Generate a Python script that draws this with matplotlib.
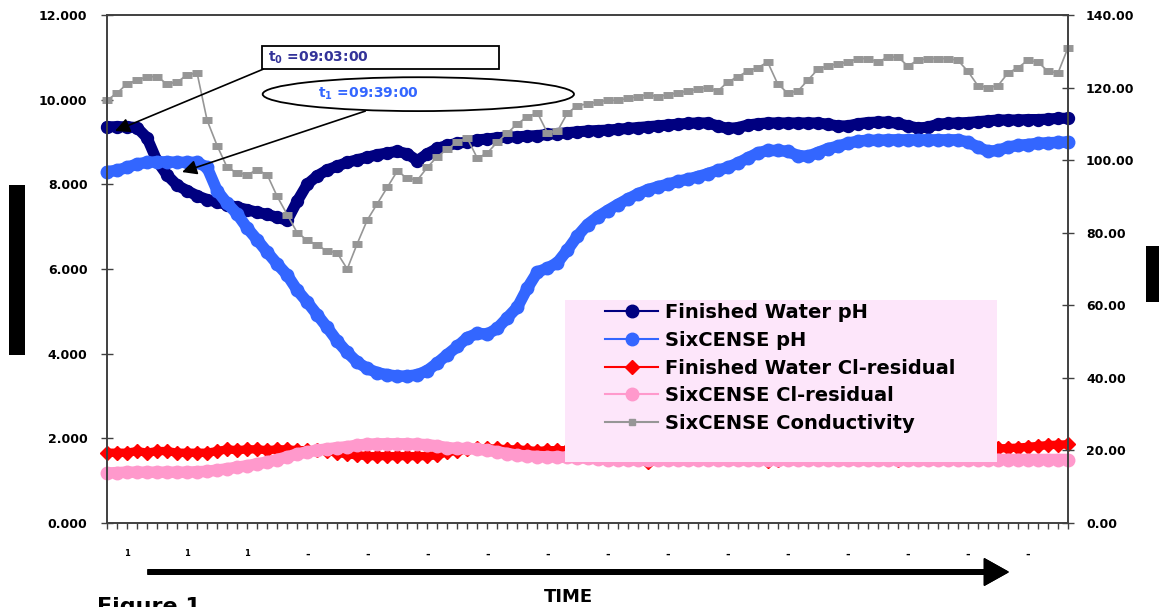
import numpy as np
import matplotlib
matplotlib.use('Agg')
import matplotlib.pyplot as plt
from matplotlib.patches import Rectangle, Ellipse
from matplotlib.lines import Line2D
from matplotlib.ticker import FormatStrFormatter, FixedLocator

# ---- data, one sample per category tick ----
fw_ph = [9.36, 9.36, 9.36, 9.34, 9.10, 8.55, 8.22, 7.98, 7.85, 7.73,
         7.64, 7.58, 7.52, 7.46, 7.40, 7.34, 7.29, 7.22, 7.15, 7.60,
         8.00, 8.20, 8.34, 8.43, 8.52, 8.58, 8.64, 8.70, 8.74, 8.78,
         8.72, 8.56, 8.72, 8.85, 8.92, 8.97, 9.00, 9.05, 9.07, 9.10,
         9.12, 9.12, 9.14, 9.15, 9.18, 9.20, 9.22, 9.24, 9.26, 9.27,
         9.28, 9.30, 9.32, 9.34, 9.36, 9.38, 9.40, 9.42, 9.44, 9.45,
         9.45, 9.38, 9.32, 9.34, 9.40, 9.43, 9.45, 9.45, 9.45, 9.45,
         9.45, 9.45, 9.42, 9.38, 9.38, 9.43, 9.46, 9.47, 9.47, 9.44,
         9.38, 9.33, 9.35, 9.42, 9.44, 9.45, 9.46, 9.48, 9.50, 9.52,
         9.52, 9.52, 9.53, 9.53, 9.54, 9.56, 9.56]

six_ph = [8.30, 8.33, 8.40, 8.48, 8.52, 8.53, 8.53, 8.52, 8.52, 8.52,
          8.40, 7.85, 7.55, 7.30, 6.97, 6.69, 6.40, 6.12, 5.86, 5.50,
          5.22, 4.92, 4.62, 4.30, 4.03, 3.80, 3.65, 3.55, 3.50, 3.47,
          3.47, 3.50, 3.60, 3.78, 3.98, 4.17, 4.38, 4.48, 4.46, 4.60,
          4.85, 5.10, 5.55, 5.93, 6.02, 6.15, 6.45, 6.78, 7.05, 7.23,
          7.38, 7.52, 7.65, 7.77, 7.87, 7.94, 8.00, 8.07, 8.12, 8.18,
          8.25, 8.33, 8.40, 8.50, 8.62, 8.74, 8.80, 8.80, 8.78, 8.68,
          8.66, 8.75, 8.84, 8.90, 8.97, 9.02, 9.04, 9.04, 9.05, 9.05,
          9.05, 9.05, 9.05, 9.05, 9.05, 9.05, 9.00, 8.88, 8.78, 8.80,
          8.88, 8.92, 8.94, 8.97, 8.98, 8.99, 9.00]

fw_cl = [1.66, 1.66, 1.66, 1.70, 1.66, 1.70, 1.70, 1.66, 1.66, 1.66,
         1.66, 1.70, 1.74, 1.72, 1.74, 1.74, 1.72, 1.74, 1.74, 1.72,
         1.72, 1.72, 1.70, 1.66, 1.62, 1.60, 1.58, 1.58, 1.58, 1.58,
         1.58, 1.58, 1.58, 1.60, 1.68, 1.70, 1.74, 1.76, 1.76, 1.76,
         1.74, 1.74, 1.72, 1.70, 1.72, 1.72, 1.72, 1.70, 1.70, 1.72,
         1.70, 1.68, 1.66, 1.60, 1.45, 1.62, 1.68, 1.70, 1.72, 1.72,
         1.70, 1.68, 1.70, 1.70, 1.66, 1.64, 1.46, 1.48, 1.62, 1.70,
         1.72, 1.70, 1.70, 1.72, 1.70, 1.70, 1.68, 1.66, 1.60, 1.48,
         1.62, 1.70, 1.72, 1.72, 1.74, 1.74, 1.74, 1.75, 1.76, 1.76,
         1.77, 1.78, 1.80, 1.82, 1.84, 1.85, 1.86]

six_cl = [1.18, 1.19, 1.20, 1.20, 1.20, 1.20, 1.20, 1.20, 1.20, 1.21,
          1.22, 1.25, 1.28, 1.32, 1.35, 1.40, 1.44, 1.50, 1.56, 1.63,
          1.68, 1.72, 1.75, 1.78, 1.80, 1.84, 1.86, 1.87, 1.87, 1.87,
          1.87, 1.86, 1.85, 1.82, 1.78, 1.76, 1.76, 1.74, 1.72, 1.68,
          1.64, 1.60, 1.58, 1.57, 1.56, 1.56, 1.55, 1.54, 1.53, 1.52,
          1.50, 1.50, 1.49, 1.49, 1.50, 1.50, 1.50, 1.49, 1.49, 1.50,
          1.50, 1.50, 1.49, 1.49, 1.49, 1.50, 1.50, 1.50, 1.49, 1.49,
          1.50, 1.50, 1.50, 1.50, 1.49, 1.49, 1.49, 1.50, 1.50, 1.50,
          1.50, 1.50, 1.49, 1.49, 1.50, 1.50, 1.50, 1.50, 1.50, 1.50,
          1.50, 1.50, 1.50, 1.50, 1.50, 1.50, 1.50]

six_cond = [116.5, 118.5, 121.0, 122.0, 123.0, 123.0, 121.0, 121.5, 123.5, 124.0,
            111.0, 104.0, 98.0, 96.5, 96.0, 97.3, 96.0, 90.0, 85.0, 80.0,
            78.0, 76.5, 75.0, 74.4, 70.0, 77.0, 83.5, 88.0, 92.5, 97.0,
            95.0, 94.5, 98.0, 101.0, 103.0, 105.0, 106.0, 100.5, 102.0, 105.0,
            107.5, 110.0, 112.0, 113.0, 107.5, 108.0, 113.0, 115.0, 115.5, 116.0,
            116.5, 116.5, 117.0, 117.5, 118.0, 117.5, 118.0, 118.5, 119.0, 119.5,
            120.0, 119.0, 121.5, 123.0, 124.5, 125.5, 127.0, 121.0, 118.5, 119.0,
            122.0, 125.0, 126.0, 126.5, 127.0, 128.0, 128.0, 127.0, 128.4, 128.4,
            126.0, 127.5, 128.0, 128.0, 128.0, 127.5, 124.5, 120.5, 120.0, 120.5,
            124.0, 125.5, 127.5, 127.0, 124.5, 124.0, 131.0]

labels = ['Finished Water pH', 'SixCENSE pH', 'Finished Water Cl-residual',
          'SixCENSE Cl-residual', 'SixCENSE Conductivity']

# x tick labels are cut off in the source, only their tops show
tick_cats = list(range(2, 96, 6))
tick_text = ['1', '1', '1'] + ['-'] * (len(tick_cats) - 3)

t0_label = r'$\mathbf{t}_{\mathbf{0}}$ =09:03:00'
t1_label = r'$\mathbf{t}_{\mathbf{1}}$ =09:39:00'

plt.rcParams['font.family'] = ['DejaVu Sans']
plt.rcParams['font.weight'] = 'bold'

W, H = 1159, 607
fig = plt.figure(figsize=(W / 100, H / 100), dpi=100)
ax = fig.add_axes([107 / W, 1 - 523 / H, 961 / W, 508 / H])
ax2 = ax.twinx()

x = np.arange(len(fw_ph))
# dense markers in the source merge into thick bands; a wide line under the markers imitates that
ax.plot(x, fw_ph, color='#000080', lw=8, marker='o', ms=8.6, mec='#000080',
        solid_capstyle='round', solid_joinstyle='round', clip_on=False)
ax.plot(x, six_ph, color='#3366FF', lw=8.3, marker='o', ms=9, mec='#3366FF',
        solid_capstyle='round', solid_joinstyle='round', clip_on=False)
ax.plot(x, fw_cl, color='#FF0000', lw=6, marker='D', ms=7, mec='#FF0000',
        solid_capstyle='round', solid_joinstyle='round', clip_on=False)
ax.plot(x, six_cl, color='#FF99CC', lw=8.3, marker='o', ms=9, mec='#FF99CC',
        solid_capstyle='round', solid_joinstyle='round', clip_on=False)
ax2.plot(x, six_cond, color='#969696', lw=1.2, clip_on=False)
ax2.plot(x, six_cond, ls='none', marker='_', ms=7.4, mew=5, color='#969696', clip_on=False)

ax.set_xlim(0, len(fw_ph) - 1)
ax.set_ylim(0, 12)
ax2.set_ylim(0, 140)
ax.set_yticks(np.arange(0, 12.1, 2))
ax2.set_yticks(np.arange(0, 141, 20))
ax.yaxis.set_major_formatter(FormatStrFormatter('%.3f'))
ax2.yaxis.set_major_formatter(FormatStrFormatter('%.2f'))

ax.xaxis.set_minor_locator(FixedLocator(x))
ax.set_xticks(tick_cats)
ax.set_xticklabels(tick_text)
for lab, t in zip(ax.get_xticklabels(), tick_text):
    lab.set_fontsize(6 if t == '1' else 8)
    lab.set_fontweight('bold')
ax.tick_params(axis='x', which='both', direction='out', length=4, width=1, color='#404040', pad=15)
ax.tick_params(axis='y', direction='inout', length=8, width=1, color='#404040', labelsize=9, pad=10)
ax2.tick_params(axis='y', direction='inout', length=8, width=1, color='#404040', labelsize=9, pad=9)

for a in (ax, ax2):
    for s in a.spines.values():
        s.set_color('#404040')
        s.set_linewidth(1.2)

# legend with pink background
handles = [
    Line2D([], [], color='#000080', lw=1.5, marker='o', ms=9),
    Line2D([], [], color='#3366FF', lw=1.5, marker='o', ms=9),
    Line2D([], [], color='#FF0000', lw=1.5, marker='D', ms=7),
    Line2D([], [], color='#FF99CC', lw=1.5, marker='o', ms=9),
    Line2D([], [], color='#969696', lw=1.5, marker='s', ms=5),
]
ax2.add_patch(Rectangle((565 / W, 1 - 462 / H), 432 / W, 162 / H, transform=fig.transFigure,
                        facecolor='#FDE6FA', edgecolor='none', zorder=4.9, clip_on=False))
ax2.legend(handles, labels, frameon=False, loc='upper left',
           bbox_to_anchor=(605 / W, 1 - 303 / H), bbox_transform=fig.transFigure,
           borderpad=0, borderaxespad=0, fontsize=14, handlelength=2.75,
           handletextpad=0.35, labelspacing=0.45, numpoints=1)

# annotations
ax2.add_patch(Rectangle((15.5, 10.73), 23.7, 0.54, transform=ax.transData, facecolor='white',
                        edgecolor='black', lw=1.3, zorder=6, clip_on=False))
ax2.text(16.1, 11.0, t0_label, transform=ax.transData, color='#333399', fontsize=10,
         fontweight='bold', va='center', ha='left', zorder=7)
ax2.annotate('', xy=(0.8, 9.26), xycoords=ax.transData, xytext=(15.6, 10.72), textcoords=ax.transData,
             arrowprops=dict(arrowstyle='-|>', mutation_scale=22, color='black', lw=1.2,
                             shrinkA=0, shrinkB=0), zorder=6)

ax2.add_patch(Ellipse((31.1, 10.13), 31.1, 0.80, transform=ax.transData, facecolor='white',
                      edgecolor='black', lw=1.3, zorder=6, clip_on=False))
ax2.text(21.1, 10.13, t1_label, transform=ax.transData, color='#3366FF', fontsize=10,
         fontweight='bold', va='center', ha='left', zorder=7)
ax2.annotate('', xy=(7.5, 8.29), xycoords=ax.transData, xytext=(25.8, 9.73), textcoords=ax.transData,
             arrowprops=dict(arrowstyle='-|>', mutation_scale=22, color='black', lw=1.2,
                             shrinkA=0, shrinkB=0), zorder=6)

# black blocks covering axis titles
fig.add_artist(Rectangle((9 / W, 1 - 355 / H), 16 / W, 170 / H, transform=fig.transFigure,
                         facecolor='black', edgecolor='none'))
fig.add_artist(Rectangle((1146 / W, 1 - 302 / H), 13 / W, 56 / H, transform=fig.transFigure,
                         facecolor='black', edgecolor='none'))

# time arrow
fig.add_artist(plt.annotate('', xy=(1008 / W, 1 - 572 / H), xytext=(148 / W, 1 - 572 / H),
                            xycoords='figure fraction', textcoords='figure fraction',
                            arrowprops=dict(facecolor='black', edgecolor='black', width=3.3,
                                            headwidth=19, headlength=17, shrink=0)))
fig.text(568 / W, 1 - 597 / H, 'TIME', ha='center', va='center', fontsize=13, fontweight='bold')
fig.text(97 / W, 1 - 597 / H, 'Figure 1', ha='left', va='top', fontsize=16, fontweight='bold')

fig.savefig('out.png', dpi=100, facecolor='white')
